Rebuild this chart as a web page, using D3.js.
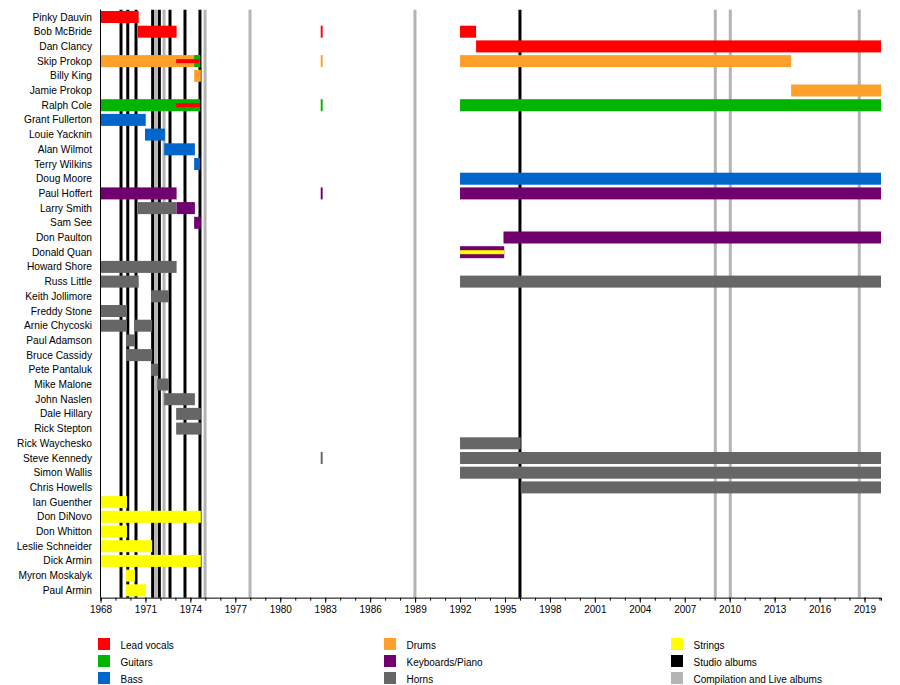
<!DOCTYPE html>
<html>
<head>
<meta charset="utf-8">
<script src="https://cdn.jsdelivr.net/npm/d3@7"></script>
<style>
  html, body { margin: 0; padding: 0; background: #fff; }
  svg { display: block; font-family: "Liberation Sans", Arial, sans-serif; }
</style>
</head>
<body>
<svg id="chart" width="900" height="685"></svg>
<script>
// ---------- DATA ----------
const members = [
  "Pinky Dauvin","Bob McBride","Dan Clancy","Skip Prokop","Billy King","Jamie Prokop",
  "Ralph Cole","Grant Fullerton","Louie Yacknin","Alan Wilmot","Terry Wilkins","Doug Moore",
  "Paul Hoffert","Larry Smith","Sam See","Don Paulton","Donald Quan","Howard Shore",
  "Russ Little","Keith Jollimore","Freddy Stone","Arnie Chycoski","Paul Adamson","Bruce Cassidy",
  "Pete Pantaluk","Mike Malone","John Naslen","Dale Hillary","Rick Stepton","Rick Waychesko",
  "Steve Kennedy","Simon Wallis","Chris Howells","Ian Guenther","Don DiNovo","Don Whitton",
  "Leslie Schneider","Dick Armin","Myron Moskalyk","Paul Armin"
];

const roles = ["Lead vocals","Guitars","Bass","Drums","Keyboards/Piano","Horns","Strings"];
const roleColors = ["#ff0000","#00b400","#0066cc","#ffa02a","#700070","#666666","#ffff00"];

const albumKinds = ["Studio albums","Compilation and Live albums"];
const albumColors = ["#000000","#b4b4b4"];

const PRESENT = 2020.1;

// [member, role, start, end]
const tenures = [
  ["Pinky Dauvin","Lead vocals",1968.0,1970.55],
  ["Bob McBride","Lead vocals",1970.5,1973.08],
  ["Bob McBride","Lead vocals",1982.7,1982.83],
  ["Bob McBride","Lead vocals",1992.0,1993.07],
  ["Dan Clancy","Lead vocals",1993.07,PRESENT],
  ["Skip Prokop","Drums",1968.0,1974.65],
  ["Skip Prokop","Guitars",1974.25,1974.65],
  ["Skip Prokop","Drums",1982.7,1982.83],
  ["Skip Prokop","Drums",1992.0,2014.1],
  ["Billy King","Drums",1974.25,1974.7],
  ["Jamie Prokop","Drums",2014.1,PRESENT],
  ["Ralph Cole","Guitars",1968.0,1974.65],
  ["Ralph Cole","Guitars",1982.7,1982.83],
  ["Ralph Cole","Guitars",1992.0,PRESENT],
  ["Grant Fullerton","Bass",1968.0,1971.02],
  ["Louie Yacknin","Bass",1970.97,1972.3],
  ["Alan Wilmot","Bass",1972.25,1974.3],
  ["Terry Wilkins","Bass",1974.25,1974.65],
  ["Doug Moore","Bass",1992.0,PRESENT],
  ["Paul Hoffert","Keyboards/Piano",1968.0,1973.08],
  ["Paul Hoffert","Keyboards/Piano",1982.7,1982.83],
  ["Paul Hoffert","Keyboards/Piano",1992.0,PRESENT],
  ["Larry Smith","Horns",1970.5,1973.08],
  ["Larry Smith","Keyboards/Piano",1973.08,1974.3],
  ["Sam See","Keyboards/Piano",1974.25,1974.7],
  ["Don Paulton","Keyboards/Piano",1994.9,PRESENT],
  ["Donald Quan","Keyboards/Piano",1992.0,1994.95],
  ["Howard Shore","Horns",1968.0,1973.08],
  ["Russ Little","Horns",1968.0,1970.55],
  ["Russ Little","Horns",1992.0,PRESENT],
  ["Keith Jollimore","Horns",1971.37,1972.57],
  ["Freddy Stone","Horns",1968.0,1969.77],
  ["Arnie Chycoski","Horns",1968.0,1969.77],
  ["Arnie Chycoski","Horns",1970.25,1971.45],
  ["Paul Adamson","Horns",1969.7,1970.3],
  ["Bruce Cassidy","Horns",1969.7,1971.45],
  ["Pete Pantaluk","Horns",1971.37,1971.85],
  ["Mike Malone","Horns",1971.78,1972.57],
  ["John Naslen","Horns",1972.25,1974.3],
  ["Dale Hillary","Horns",1973.05,1974.7],
  ["Rick Stepton","Horns",1973.05,1974.7],
  ["Rick Waychesko","Horns",1992.0,1996.05],
  ["Steve Kennedy","Horns",1982.7,1982.83],
  ["Steve Kennedy","Horns",1992.0,PRESENT],
  ["Simon Wallis","Horns",1992.0,PRESENT],
  ["Chris Howells","Horns",1996.05,PRESENT],
  ["Ian Guenther","Strings",1968.0,1969.77],
  ["Don DiNovo","Strings",1968.0,1974.7],
  ["Don Whitton","Strings",1968.0,1969.77],
  ["Leslie Schneider","Strings",1968.0,1971.45],
  ["Dick Armin","Strings",1968.0,1974.7],
  ["Myron Moskalyk","Strings",1969.7,1970.3],
  ["Paul Armin","Strings",1969.7,1971.03]
];

// secondary roles drawn as thin stripes: [member, role, start, end]
const stripes = [
  ["Skip Prokop","Lead vocals",1973.05,1974.6],
  ["Ralph Cole","Lead vocals",1973.05,1974.65],
  ["Donald Quan","Strings",1992.0,1994.95]
];

const studioAlbums = [1969.37,1969.82,1970.37,1971.48,1971.93,1972.64,1973.64,1974.64,1996.0];
const liveAlbums = [1971.7,1972.24,1974.98,1977.98,1988.99,2009.04,2010.04,2018.65];

const majorTicks = d3.range(1968, 2020, 3);
const minorTicks = d3.range(1968, 2021, 1);

// ---------- LAYOUT ----------
const svg = d3.select("#chart");
const plotTop = 9.65, plotBottom = 597.65;
const x = d3.scaleLinear().domain([1968, PRESENT]).range([100.5, 881]);
const y = d3.scaleBand().domain(members).range([plotTop, plotBottom]).paddingInner(0).paddingOuter(0);
const barH = 12;
const stripeH = 4;
const color = d3.scaleOrdinal().domain(roles).range(roleColors);
const albumColor = d3.scaleOrdinal().domain(albumKinds).range(albumColors);

// album lines (behind bars)
const albumLines = [
  ...liveAlbums.map(v => ({v, kind: albumKinds[1]})),
  ...studioAlbums.map(v => ({v, kind: albumKinds[0]}))
];
svg.append("g").selectAll("line").data(albumLines).join("line")
  .attr("x1", d => x(d.v)).attr("x2", d => x(d.v))
  .attr("y1", plotTop).attr("y2", plotBottom)
  .attr("stroke", d => albumColor(d.kind))
  .attr("stroke-width", 3);

// bars
const yc = m => y(m) + y.bandwidth() / 2;
svg.append("g").selectAll("rect").data(tenures).join("rect")
  .attr("x", d => x(d[2]))
  .attr("width", d => Math.max(1, x(d[3]) - x(d[2])))
  .attr("y", d => yc(d[0]) - barH / 2)
  .attr("height", barH)
  .attr("fill", d => color(d[1]));

// stripes
svg.append("g").selectAll("rect").data(stripes).join("rect")
  .attr("x", d => x(d[2]))
  .attr("width", d => x(d[3]) - x(d[2]))
  .attr("y", d => yc(d[0]) - stripeH / 2)
  .attr("height", stripeH)
  .attr("fill", d => color(d[1]));

// member names
svg.append("g").selectAll("text").data(members).join("text")
  .attr("x", 92)
  .attr("y", d => yc(d))
  .attr("dy", "0.35em")
  .attr("text-anchor", "end")
  .attr("font-size", 10.2)
  .attr("fill", "#000")
  .text(d => d);

// left axis line
svg.append("line")
  .attr("x1", 100.5).attr("x2", 100.5)
  .attr("y1", plotTop).attr("y2", plotBottom)
  .attr("stroke", "#000").attr("stroke-width", 1);

// bottom axis: minor ticks
const gMinor = svg.append("g").attr("transform", `translate(0,${plotBottom})`)
  .call(d3.axisBottom(x).tickValues(minorTicks.filter(v => v <= PRESENT)).tickSize(3).tickFormat(""));
gMinor.select(".domain").attr("stroke", "#000");
gMinor.selectAll(".tick line").attr("stroke", "#000");

const gMajor = svg.append("g").attr("transform", `translate(0,${plotBottom})`)
  .call(d3.axisBottom(x).tickValues(majorTicks).tickSize(5).tickPadding(3).tickFormat(d3.format("d")));
gMajor.select(".domain").remove();
gMajor.selectAll(".tick line").attr("stroke", "#000");
gMajor.selectAll(".tick text").attr("font-size", 10).attr("fill", "#000")
  .attr("font-family", "'Liberation Sans', Arial, sans-serif");

// legend
const legendItems = [
  ...roles.map((r, i) => ({label: r, fill: roleColors[i]})),
  ...albumKinds.map((a, i) => ({label: a, fill: albumColors[i]}))
];
const colX = [98, 384, 671];
const rowY = [638, 655, 672];
const lg = svg.append("g").selectAll("g").data(legendItems).join("g")
  .attr("transform", (d, i) => `translate(${colX[Math.floor(i / 3)]},${rowY[i % 3]})`);
lg.append("rect").attr("width", 12).attr("height", 12).attr("fill", d => d.fill);
lg.append("text").attr("x", 22.5).attr("y", 7).attr("dy", "0.35em")
  .attr("font-size", 10).attr("fill", "#000").text(d => d.label);
</script>
</body>
</html>
